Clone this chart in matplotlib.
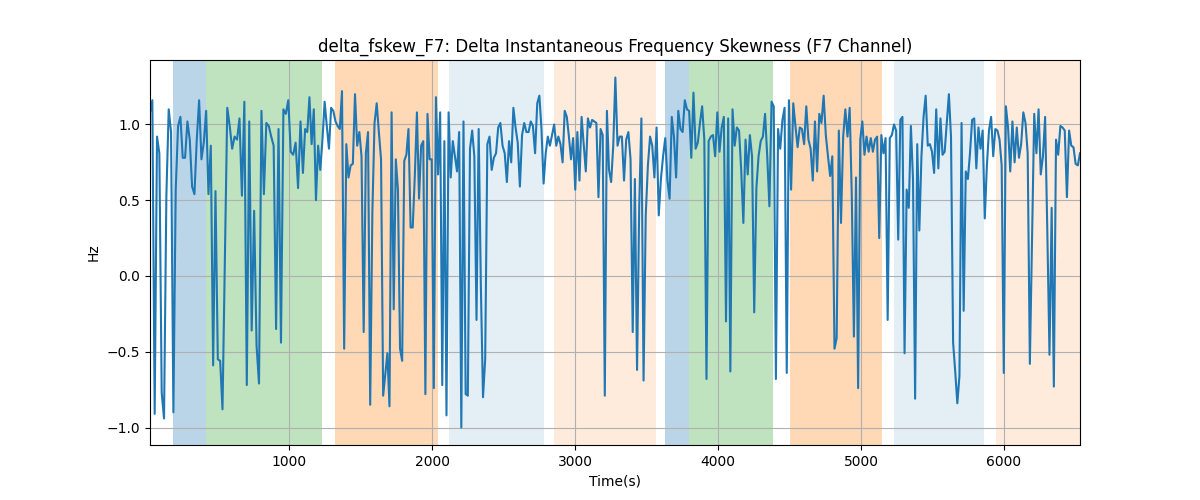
import numpy as np
import matplotlib
matplotlib.use("Agg")
import matplotlib.pyplot as plt

# values, one list per ~546 s stretch
seg00 = [1.08, 1.16, -0.91, 0.92, 0.81, -0.77, -0.94, 0.53, 1.10, 0.95, -0.90, 0.57,
         0.99, 1.05, 0.78, 0.78, 1.02, 0.90, 0.59, 0.54, 0.90, 1.16, 0.77, 0.88,
         1.09, 0.54, 0.86, -0.59, 0.56, -0.55, -0.56, -0.88]
seg01 = [0.10, 1.11, 0.99, 0.84, 0.92, 0.90, 1.04, 0.53, 1.15, -0.72, 1.02, -0.36,
         0.43, -0.46, -0.71, 1.09, 0.54, 1.01, 0.99, 0.92, 0.86, -0.35, 0.97, -0.44,
         1.10, 1.07, 1.16, 0.82, 0.80, 0.88, 0.58, 1.02]
seg02 = [0.68, 0.97, 0.95, 1.18, 0.87, 1.10, 0.50, 0.86, 0.70, 0.90, 1.15, 0.99,
         0.84, 1.11, 1.09, 1.02, 0.99, 0.97, 1.22, -0.48, 0.87, 0.65, 0.73, 0.74,
         1.20, 0.86, 0.95, 0.79, -0.37, 0.81, 0.95, -0.85, 0.42, 1.01, 1.14, 0.95]
seg03 = [0.77, -0.79, -0.65, -0.51, -0.86, 1.08, -0.22, 0.77, 0.57, -0.48, -0.56, 0.76,
         0.80, 0.97, 0.32, 0.32, 0.66, 1.08, 0.51, 0.86, 0.89, -0.78, 1.07, 0.77,
         0.77, -0.74, 1.18, 0.67, 1.08, -0.72, 0.89, -0.92, 1.08, 0.65, 0.89, 0.79, 0.69]
seg04 = [0.95, -1.00, 1.02, -0.78, -0.79, 0.84, 0.96, 0.79, -0.29, 0.97, -0.06, -0.80,
         -0.55, 0.87, 0.92, 0.70, 0.78, 0.81, 0.98, 1.01, 0.86, 0.81, 0.62, 0.89,
         0.75, 1.11, 0.98, 0.88, 0.59, 0.93, 1.01, 0.95, 0.95, 1.02, 0.99, 0.81]
seg05 = [1.14, 1.19, 0.97, 0.61, 0.81, 0.92, 0.86, 0.93, 1.00, 0.86, 0.92, 0.87, 0.75,
         1.09, 1.05, 0.92, 0.77, 0.91, 0.57, 0.95, 0.63, 1.05, 0.87, 0.69, 1.04,
         0.98, 1.03, 1.02, 1.01, 0.52, 0.97, 0.93, -0.79, 1.09, 0.70, 0.62, 0.86]
seg06 = [1.31, 0.86, 0.92, 0.92, 0.63, 0.90, 0.95, 0.77, -0.37, 0.64, -0.62, 0.46,
         1.04, -0.69, 0.40, 0.73, 0.92, 0.86, 0.65, 0.98, 0.40, 0.64, 0.79, 0.91,
         0.63, 0.51, 1.05, 0.92, 0.65, 1.09, 0.97, 0.95, 1.16, 1.10, 1.09, 0.78]
seg07 = [1.21, 0.84, 0.88, 1.01, 1.12, 0.90, -0.68, 0.89, 0.92, 0.93, 0.79, 1.08,
         0.82, 0.98, 1.05, -0.30, 1.04, -0.63, 1.10, 0.86, 0.98, 0.96, 0.70, 0.35,
         0.90, 0.67, 0.93, 0.79, -0.24, 0.58, 0.79, 0.89, 0.92, 1.07, 0.79, 0.46]
seg08 = [1.15, 1.12, -0.68, 0.97, 0.84, 1.03, 1.11, -0.64, 1.16, 0.57, 1.14, 0.99,
         0.85, 0.98, 0.97, 0.87, 1.12, 0.90, 0.84, 0.63, 1.02, 0.69, 1.07, 1.01,
         1.19, 0.93, 0.79, 0.66, 0.79, -0.48, -0.41, 0.96, 0.35, 0.92, 1.10, 0.92]
seg09 = [1.11, 0.53, -0.40, 0.65, -0.74, 0.90, 1.02, 0.80, 0.92, 0.82, 0.91, 0.82,
         0.90, 0.92, 0.25, 0.93, 0.81, 0.91, -0.29, 0.91, 0.93, 1.00, 0.96, 0.24,
         1.03, 1.05, -0.51, 0.57, 0.45, 0.99, 0.64, -0.81, 0.87, 0.30, 0.79, 1.05, 1.19]
seg10 = [0.86, 0.87, 0.82, 0.68, 1.10, 0.71, 1.04, 0.80, 0.82, 1.01, 1.20, 0.92,
         -0.44, -0.63, -0.84, -0.66, 1.01, -0.23, 0.69, 0.64, 0.81, 1.03, 1.04, 0.71,
         0.98, 0.84, 0.96, 0.38, 0.73, 0.96, 1.05, 0.79, 0.97, 0.96, 0.90, 0.73, -0.64]
seg11 = [1.12, 0.98, 0.69, 1.02, 0.75, 0.98, 0.78, 0.87, 1.08, 1.01, 0.81, -0.58,
         0.25, 1.07, 0.81, 1.10, 0.67, 0.79, 1.05, 0.30, -0.52, 0.45, -0.73, 0.90,
         0.80, 0.99, 0.98, 0.96, 0.52, 0.96, 0.86, 0.85, 0.74, 0.73, 0.81]
segments = [seg00, seg01, seg02, seg03, seg04, seg05, seg06, seg07, seg08, seg09, seg10, seg11]
seg_edges = [26, 549.5, 1095.9, 1642.3, 2188.7, 2735.1, 3281.5, 3827.9,
             4374.3, 4920.7, 5467.1, 6013.5, 6532]

# shaded spans: (start, end, color, alpha)
spans = [
    (185, 419, "tab:blue", 0.3),
    (419, 1231, "tab:green", 0.3),
    (1320, 2040, "tab:orange", 0.3),
    (2119, 2782, "tab:blue", 0.12),
    (2854, 3567, "tab:orange", 0.15),
    (3632, 3796, "tab:blue", 0.3),
    (3796, 4386, "tab:green", 0.3),
    (4501, 5150, "tab:orange", 0.3),
    (5232, 5858, "tab:blue", 0.12),
    (5944, 6532, "tab:orange", 0.15),
]

t_parts = []
for i, seg in enumerate(segments):
    last = i == len(segments) - 1
    t_parts.append(np.linspace(seg_edges[i], seg_edges[i + 1], len(seg), endpoint=last))
t = np.concatenate(t_parts)
v = np.concatenate([np.array(s) for s in segments])

fig, ax = plt.subplots(figsize=(12, 5), dpi=100)
for a, b, c, al in spans:
    ax.axvspan(a, b, color=c, alpha=al, lw=0)
ax.plot(t, v, color="tab:blue", lw=1.5)
ax.set_xlim(t[0], t[-1])
ax.grid(True)
ax.set_title("delta_fskew_F7: Delta Instantaneous Frequency Skewness (F7 Channel)")
ax.set_xlabel("Time(s)")
ax.set_ylabel("Hz")

fig.savefig("out.png")
